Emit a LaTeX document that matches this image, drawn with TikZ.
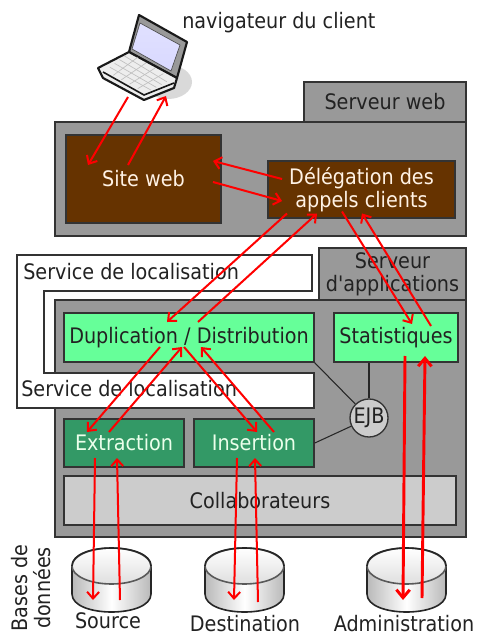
\documentclass[tikz,border=0pt]{standalone}
\usepackage{fontspec}
\setmainfont{DejaVu Sans Condensed}
\newfontfamily\plainf{DejaVu Sans Condensed}
\usetikzlibrary{arrows.meta,calc}
\definecolor{boxgray}{HTML}{999999}
\definecolor{brownbox}{HTML}{663300}
\definecolor{lightgreen}{HTML}{66FF99}
\definecolor{darkgreen}{HTML}{339966}
\definecolor{lightbox}{HTML}{CCCCCC}
\definecolor{edge}{HTML}{333333}
\definecolor{ink}{HTML}{222222}
\newcommand{\dbcyl}[3]{%
  \coordinate (#1) at (#2,#3);
  \path[dbline,left color=gray!55,right color=gray!55,middle color=white]
    (#2-39.5,#3-14) -- (#2-39.5,#3+14) .. controls (#2-39.5,#3+38) and (#2+39.5,#3+38) .. (#2+39.5,#3+14)
    -- (#2+39.5,#3-14) -- cycle;
  \path[dbline,draw=gray!70!black,top color=white,bottom color=gray!25] (#2,#3-14) ellipse[x radius=39.5,y radius=18];
  \draw[dbline] (#2-39.5,#3-14) .. controls (#2-39.5,#3-38) and (#2+39.5,#3-38) .. (#2+39.5,#3-14);
}
\tikzset{
  x=0.75pt,y=-0.75pt,
  textfont/.style={font=\fontsize{16pt}{17.5pt}\selectfont,text=ink,align=center,inner sep=0pt},
  bx/.style 2 args={minimum width=#1*0.75pt,minimum height=#2*0.75pt,inner sep=0pt,align=center,
     font=\fontsize{16pt}{17.5pt}\selectfont},
  panel/.style 2 args={bx={#1}{#2},draw=edge,line width=1.2pt,fill=boxgray,text=ink},
  brownb/.style 2 args={bx={#1}{#2},draw=black!80,line width=1.2pt,fill=brownbox,text=white!90!orange},
  lgreen/.style 2 args={bx={#1}{#2},draw=black!80,line width=1.2pt,fill=lightgreen,text=ink},
  dgreen/.style 2 args={bx={#1}{#2},draw=black!80,line width=1.2pt,fill=darkgreen,text=white!92!green},
  collab/.style 2 args={bx={#1}{#2},draw=edge,line width=1.2pt,fill=lightbox,text=ink},
  dbline/.style={draw=black!85,line width=1.2pt},
  flow/.style={draw=red,line width=1.5pt,-{Straight Barb[length=5pt,width=9pt,line width=1.5pt]}},
  flowthick/.style={draw=red,line width=2.2pt,-{Straight Barb[length=6pt,width=10pt,line width=2.2pt]}},
  link/.style={draw=black!85,line width=0.8pt},
}
\begin{document}
\begin{tikzpicture}
\useasboundingbox (0,0) rectangle (477,634);
\fill[white] (0,0) rectangle (477,634);

% laptop
\fill[black!15] (168,82) ellipse[x radius=24,y radius=17];
\draw[black!90,line width=1.6pt,line join=round,fill=black!40] (139,15) -- (187,42) -- (177,78) -- (129,52) -- cycle;
\shade[top color=blue!12,bottom color=white!85!blue,draw=black!70,line width=0.5pt] (140,23) -- (180,45) -- (171,71) -- (132,49) -- cycle;
\draw[black!90,line width=1.6pt,line join=round,fill=white!93!black] (129,52) -- (177,78) -- (174,88) -- (144,100) -- (103,78) -- (98,68) -- cycle;
\draw[black!90,line width=1.2pt] (103,72) -- (144,95) -- (174,83);
\foreach \t in {0.2,0.4,0.6,0.8}{
  \draw[black!25,line width=0.5pt] ($(129,52)!\t!(105,71)$) -- ($(172,79)!\t!(146,93)$);
  \draw[black!25,line width=0.5pt] ($(129,52)!\t!(172,79)$) -- ($(105,71)!\t!(146,93)$);
}
\node[textfont,anchor=west] (client) at (182,23) {navigateur du client};
\coordinate (laptop) at (128,97);

% web server
\node[panel={162}{40}] (webtab) at (385,102) {Serveur web};
\node[panel={411}{114}] (webbox) at (260.5,179) {};
\node[brownb={155}{88}] (site) at (143.5,179) {\raisebox{1.2pt}{Site web}};
\node[brownb={187}{57}] (deleg) at (361.5,189.5) {Délégation des\\appels clients};

% application server
\node[panel={147}{52}] (apptab) at (392.5,274) {Serveur\\{\plainf d'applications}};
\draw[edge,line width=1.2pt,fill=white] (17,255) -- (312,255) -- (312,291) -- (44,291) -- (44,373) -- (314,373) -- (314,408) -- (17,408) -- cycle;
\node[panel={411}{237}] (appbox) at (260.5,418.5) {};
\fill[white] (44.5,373) rectangle (314,408);
\draw[edge,line width=1.2pt] (17,408) -- (314,408) -- (314,373) -- (44,373);
\node[textfont,anchor=west] (loc1) at (23,272) {Service de localisation};
\node[textfont,anchor=west] (loc2) at (21,389) {Service de localisation};

\node[lgreen={250}{49}] (dup) at (189,337.5) {Duplication / Distribution};
\node[lgreen={124}{49}] (stat) at (396,337.5) {Statistiques};
\node[dgreen={120}{48}] (extr) at (124,443) {Extraction};
\node[dgreen={120}{48}] (ins) at (254,443) {Insertion};
\node[collab={392}{49}] (coll) at (260,500.5) {Collaborateurs};
\node[circle,draw=edge,line width=1pt,fill=lightbox,minimum size=38*0.75pt,inner sep=0pt,text=ink,font=\fontsize{16pt}{17pt}\selectfont] (ejb) at (369,418) {\makebox[0pt]{EJB}};
\draw[link] (dup.south east) -- (ejb);
\draw[link] (stat.south -| ejb) -- (ejb);
\draw[link] (ins.east) -- (ejb);

% databases
\dbcyl{srcdb}{111.5}{580}
\dbcyl{dstdb}{244.5}{580}
\dbcyl{admdb}{406.5}{580}
\node[textfont] (srcl) at (108,621) {Source};
\node[textfont] (dstl) at (245,623.5) {Destination};
\node[textfont] (adml) at (404,623.5) {Administration};
\node[textfont,rotate=90] (bases) at (31,588) {Bases de\\données};

% flows
\draw[flow] (laptop) -- ([shift={(-55.5,-14)}]site.center);
\draw[flow] ([shift={(-15.5,-14)}]site.center) -- ([shift={(38,-1)}]laptop);
\draw[flow] ([shift={(-79.5,-10.5)}]deleg.center) -- ([shift={(69.5,-18)}]site.center);
\draw[flow] ([shift={(69.5,3)}]site.center) -- ([shift={(-79.5,11.5)}]deleg.center);
\draw[flow] ([shift={(-74.5,24)}]deleg.center) -- ([shift={(-22,-15.5)}]dup.center);
\draw[flow] ([shift={(9,-15.5)}]dup.center) -- ([shift={(-44.5,24)}]deleg.center);
\draw[flow] ([shift={(-19.5,22)}]deleg.center) -- ([shift={(16,-13.5)}]stat.center);
\draw[flow] ([shift={(35,-11.5)}]stat.center) -- ([shift={(0.5,24)}]deleg.center);
\draw[flow] ([shift={(-29,9.5)}]dup.center) -- ([shift={(-37,-11)}]extr.center);
\draw[flow] ([shift={(-15,-11)}]extr.center) -- ([shift={(-7,9.5)}]dup.center);
\draw[flow] ([shift={(-5,9.5)}]dup.center) -- ([shift={(3,-11)}]ins.center);
\draw[flow] ([shift={(20,-11)}]ins.center) -- ([shift={(12,9.5)}]dup.center);
\draw[flow] ([shift={(-29,15)}]extr.center) -- ([shift={(-18.5,20)}]srcdb);
\draw[flow] ([shift={(8.5,20)}]srcdb) -- ([shift={(-7,15)}]extr.center);
\draw[flow] ([shift={(-17,15)}]ins.center) -- ([shift={(-10.5,20)}]dstdb);
\draw[flow] ([shift={(13.5,22)}]dstdb) -- ([shift={(1,15)}]ins.center);
\draw[flowthick] ([shift={(9,18.5)}]stat.center) -- ([shift={(-3.5,20)}]admdb);
\draw[flowthick] ([shift={(15.5,18)}]admdb) -- ([shift={(29,18.5)}]stat.center);
\end{tikzpicture}
\end{document}
